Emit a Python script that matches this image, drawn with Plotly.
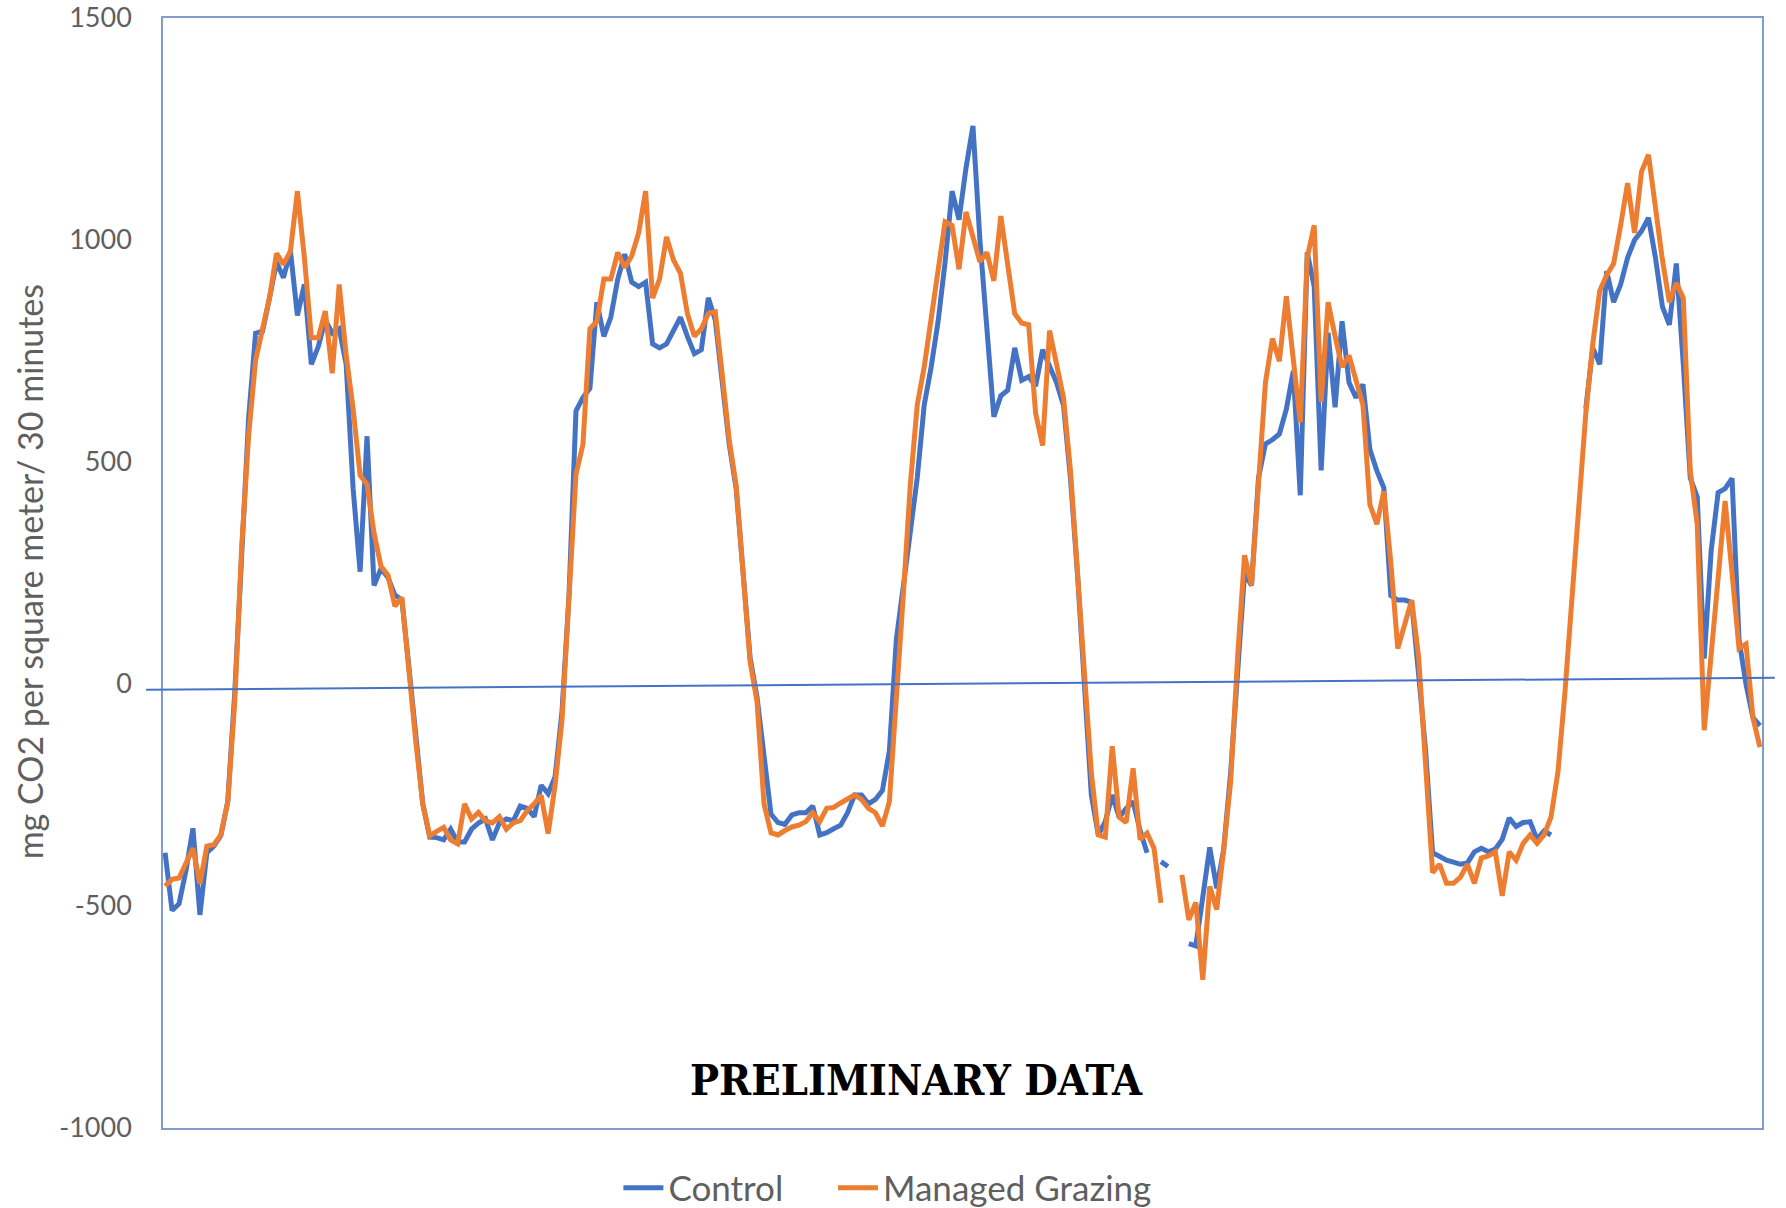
import plotly.graph_objects as go

# ---- data (half-hourly CO2 flux, mg CO2 / m2 / 30 min) ----
control = [
    -380, -510, -495, -420, -325, -520, -380, -365, -342, -265,
    -20, 320, 600, 790, 795, 870, 950, 915, 975, 830,
    900, 720, 760, 820, 790, 800, 720, 440, 253, 558,
    222, 260, 240, 200, 190, 40, -130, -270, -345, -346,
    -351, -327, -356, -356, -327, -313, -304, -351, -313, -304,
    -308, -275, -280, -299, -228, -247, -209, -60, 200, 615,
    645, 666, 860, 783, 826, 912, 968, 905, 895, 905,
    766, 757, 766, 796, 826, 783, 744, 753, 870, 820,
    680, 540, 440, 250, 60, -30, -160, -293, -312, -316,
    -295, -290, -290, -275, -340, -335, -326, -318, -290, -250,
    -250, -270, -260, -240, -151, 100, 220, 335, 464, 628,
    714, 817, 950, 1110, 1046, 1162, 1257, 1000, 800, 602,
    649, 662, 757, 684, 692, 671, 753, 714, 679, 628,
    464, 250, 20, -250, -340, -310, -250, -300, -280, -265,
    -330, -380, None, -400, -411, None, None, -585, -590, -480,
    -368, -460, -373, -200, 40, 250, 222, 464, 541, 550,
    563, 619, 705, 425, 972, 895, 481, 791, 623, 817,
    679, 645, 675, 528, 480, 442, 199, 189, 189, 184,
    20, -151, -380, -390, -397, -401, -406, -403, -378, -370,
    -378, -372, -350, -302, -321, -312, -310, -350, -331, -340,
    None, None, None, None, 620, 757, 720, 930, 860, 900,
    960, 1000, 1020, 1050, 960, 850, 809, 947, 720, 464,
    421, 57, 300, 431, 440, 463, 100, 0, -76, -94,
]

managed_grazing = [
    -455, -440, -437, -400, -370, -450, -365, -362, -340, -265,
    -40, 310, 560, 730, 800, 870, 970, 945, 975, 1110,
    960, 780, 780, 840, 700, 900, 740, 620, 470, 450,
    340, 265, 245, 175, 195, 30, -130, -270, -342, -332,
    -323, -351, -360, -270, -304, -289, -308, -313, -299, -327,
    -313, -308, -285, -270, -251, -337, -228, -80, 180, 472,
    540, 800, 817, 912, 912, 972, 938, 964, 1016, 1110,
    869, 912, 1007, 955, 925, 834, 783, 800, 834, 838,
    697, 550, 447, 230, 50, -40, -270, -335, -340, -330,
    -322, -318, -310, -290, -310, -280, -278, -268, -258, -250,
    -260, -280, -290, -320, -265, -10, 200, 447, 628, 714,
    817, 938, 1041, 1033, 934, 1063, 1007, 951, 972, 908,
    1054, 938, 834, 813, 809, 610, 537, 796, 722, 645,
    481, 250, 10, -200, -340, -345, -140, -300, -312, -190,
    -350, -336, -370, -493, None, None, -430, -531, -492, -666,
    -456, -508, -373, -220, 60, 290, 222, 464, 679, 778,
    727, 873, 740, 589, 960, 1033, 636, 860, 783, 714,
    740, 688, 628, 404, 360, 434, 274, 80, 140, 189,
    60, -170, -425, -406, -449, -449, -435, -406, -449, -392,
    -387, -378, -477, -378, -397, -359, -340, -359, -340, -300,
    -198, -20, 180, 378, 610, 766, 886, 921, 947, 1033,
    1128, 1016, 1154, 1192, 1076, 955, 860, 903, 869, 480,
    360, -104, 66, 240, 412, 250, 80, 90, -76, -142,
]

y_ticks = [-1000, -500, 0, 500, 1000, 1500]
y_tick_labels = ["-1000", "-500", "0", "500", "1000", "1500"]
series_names = ["Control", "Managed Grazing"]
y_title = "mg CO2 per square meter/ 30 minutes"
watermark = "PRELIMINARY DATA"
zero_line_ends = [-13, 14]   # slightly tilted reference line (value at left / right)

x = list(range(len(control)))

BLUE = "#4472C4"
ORANGE = "#ED7D31"
GRAY = "#5f5f5f"
FRAME = "#7F9CCB"
SANS = "Lato, Open Sans, sans-serif"

fig = go.Figure()
fig.add_trace(go.Scatter(x=x, y=control, mode="lines", name=series_names[0],
                         line=dict(color=BLUE, width=5), connectgaps=False,
                         legend="legend"))
fig.add_trace(go.Scatter(x=x, y=managed_grazing, mode="lines", name=series_names[1],
                         line=dict(color=ORANGE, width=5), connectgaps=False,
                         legend="legend2"))

fig.add_shape(type="line", xref="paper", yref="y",
              x0=-0.0106, x1=1.008, y0=zero_line_ends[0], y1=zero_line_ends[1],
              line=dict(color=BLUE, width=2), layer="above")

fig.add_annotation(text=y_title, xref="paper", yref="paper", x=-0.0835, y=0.501,
                   textangle=-90, showarrow=False, xanchor="center", yanchor="middle",
                   font=dict(family=SANS, size=34, color=GRAY))
fig.add_annotation(text=watermark, xref="paper", yref="paper", x=0.471, y=0.0435,
                   showarrow=False, xanchor="center", yanchor="middle",
                   font=dict(family="DejaVu Serif Condensed, DejaVu Serif, serif", size=43,
                             color="#000000", weight="bold"))

legend_style = dict(orientation="h", y=-0.054, yanchor="middle", xanchor="left",
                    font=dict(family=SANS, size=35, color=GRAY),
                    itemwidth=40, bgcolor="rgba(0,0,0,0)")

fig.update_layout(
    width=1786, height=1208,
    margin=dict(l=163, r=24, t=18, b=80, autoexpand=False),
    paper_bgcolor="white", plot_bgcolor="white",
    showlegend=True,
    legend=dict(x=0.2848, **legend_style),
    legend2=dict(x=0.4190, **legend_style),
    font=dict(family=SANS, color=GRAY),
)
fig.update_xaxes(range=[-0.3, len(control) - 1 + 0.3], showgrid=False, zeroline=False,
                 showticklabels=False, ticks="", showline=True, mirror=True,
                 linecolor=FRAME, linewidth=1.5)
fig.update_yaxes(range=[-1000, 1500], tickvals=y_ticks, ticktext=y_tick_labels,
                 showgrid=False, zeroline=False, ticks="", ticklabelstandoff=24,
                 showline=True, mirror=True, linecolor=FRAME, linewidth=1.5,
                 tickfont=dict(family=SANS, size=27, color=GRAY))

fig.write_html("out.html", config={"displayModeBar": False},
               post_script="document.body.style.margin='0';document.body.style.overflow='hidden';")
